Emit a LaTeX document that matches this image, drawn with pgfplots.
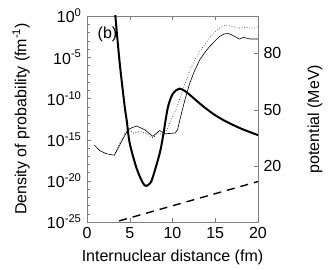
\documentclass[border=0pt]{standalone}
\usepackage{pgfplots}
\pgfplotsset{compat=1.18}
\usepackage{fontspec}
\setmainfont{Liberation Sans}
\begin{document}
\fontsize{16}{19}\selectfont
\begin{tikzpicture}
\useasboundingbox (-87pt,-48pt) rectangle (245pt,222pt);
\begin{axis}[
  at={(0,0)}, anchor=south west,
  scale only axis, width=171pt, height=206pt,
  xmin=0, xmax=20,
  ymode=log, ymin=1e-25, ymax=1,
  xtick={0,5,10,15,20}, xticklabels={0,5,10,15,20},
  ytick={1e-25,1e-20,1e-15,1e-10,1e-5,1},
  yticklabels={10\textsuperscript{-25},10\textsuperscript{-20},10\textsuperscript{-15},10\textsuperscript{-10},10\textsuperscript{-5},10\textsuperscript{0}},
  minor ytick={1e-24,1e-23,1e-22,1e-21,1e-19,1e-18,1e-17,1e-16,1e-14,1e-13,1e-12,1e-11,1e-9,1e-8,1e-7,1e-6,1e-4,1e-3,1e-2,1e-1},
  ytick pos=left,
  axis line style={gray},
  tick style={gray, major tick length=4pt, minor tick length=3pt},
  tick label style={font=\fontsize{16}{19}\selectfont, black},
  label style={font=\fontsize{16}{19}\selectfont},
  xlabel={Internuclear distance (fm)},
  xlabel style={at={(axis description cs:0.5,-0.17)}, anchor=center},
  ylabel={Density of probability (fm\textsuperscript{-1})},
  ylabel style={at={(axis description cs:-0.385,0.5)}, anchor=center},
]
\addplot[black, line width=0.6pt] coordinates {
(0.86,2.2e-16) (1.45,5.0e-17) (2.2,2.0e-17) (3.2,1.26e-17)
(4.8,1.78e-14) (5.8,4.5e-14) (6.75,1.6e-14) (7.7,2.5e-15)
(8.5,1.26e-14) (9.1,5.0e-15) (10.3,6.3e-15) (10.6,1.6e-14)
(11.0,1e-12) (11.5,1e-10) (12.0,6.3e-9) (12.6,2.5e-7) (13.2,5.0e-6)
(13.8,4.0e-5) (14.35,2.0e-4) (15.0,1e-3) (15.5,3.2e-3) (16.0,6.3e-3)
(16.5,7.9e-3) (17.3,3.2e-3) (17.8,1.6e-3) (18.3,2.5e-3) (18.7,2.0e-3)
(19.1,1.6e-3) (20,1.6e-3)
};
\addplot[black, line width=0.6pt, dotted] coordinates {
(3.2,1.26e-17) (4.2,2.5e-15) (4.8,2.0e-14) (5.4,6.3e-15) (6.35,1e-14)
(7.0,5.0e-15) (7.7,1.6e-15) (8.3,6.3e-15) (8.9,4.0e-15) (9.45,2.5e-14)
(9.9,3.2e-13) (10.4,4.0e-12) (10.8,6.3e-11) (11.2,1e-9) (11.7,3.2e-8)
(12.2,7.1e-7) (12.9,1.6e-5) (13.6,2.0e-4) (14.3,2.0e-3) (15.1,1.6e-2)
(15.7,4.5e-2) (16.3,7.9e-2) (17.1,5.0e-2) (17.7,3.2e-2) (18.2,4.5e-2)
(18.7,4.0e-2) (19.5,3.2e-2) (20,5.0e-2)
};
\node[font=\fontsize{16}{19}\selectfont] at (rel axis cs:0.12,0.91) {(b)};
\end{axis}
\begin{axis}[
  at={(0,0)}, anchor=south west,
  scale only axis, width=171pt, height=206pt,
  xmin=0, xmax=20, ymin=-10, ymax=100,
  axis x line=none, axis y line*=right,
  ytick={20,50,80}, yticklabels={20,50,80},
  axis line style={gray},
  tick style={gray, major tick length=4pt},
  tick label style={font=\fontsize{16}{19}\selectfont, black},
  label style={font=\fontsize{16}{19}\selectfont},
  ylabel={potential (MeV)},
  ylabel style={at={(axis description cs:1.333,0.5)}, anchor=center, rotate=0},
  clip=true,
]
\addplot[black, line width=2pt, smooth] coordinates {
(3.2,106) (3.8,76) (4.4,52) (4.65,44) (5.0,32) (5.8,18.7) (6.55,10.7)
(6.95,9.3) (7.4,10.8) (7.7,14) (8.5,26.6) (8.9,36) (9.45,51) (10.05,58.6)
(10.8,61.2) (11.5,59.8) (12.2,57.2) (13,54) (14,50.3) (15,47) (16,44.3)
(17,42) (18,39.9) (19,38.1) (20,36.4)
};
\addplot[black, line width=1.4pt, dash pattern=on 8pt off 6pt] coordinates {
(3.76,-9.4) (20,11.6)
};
\end{axis}
\end{tikzpicture}
\end{document}
